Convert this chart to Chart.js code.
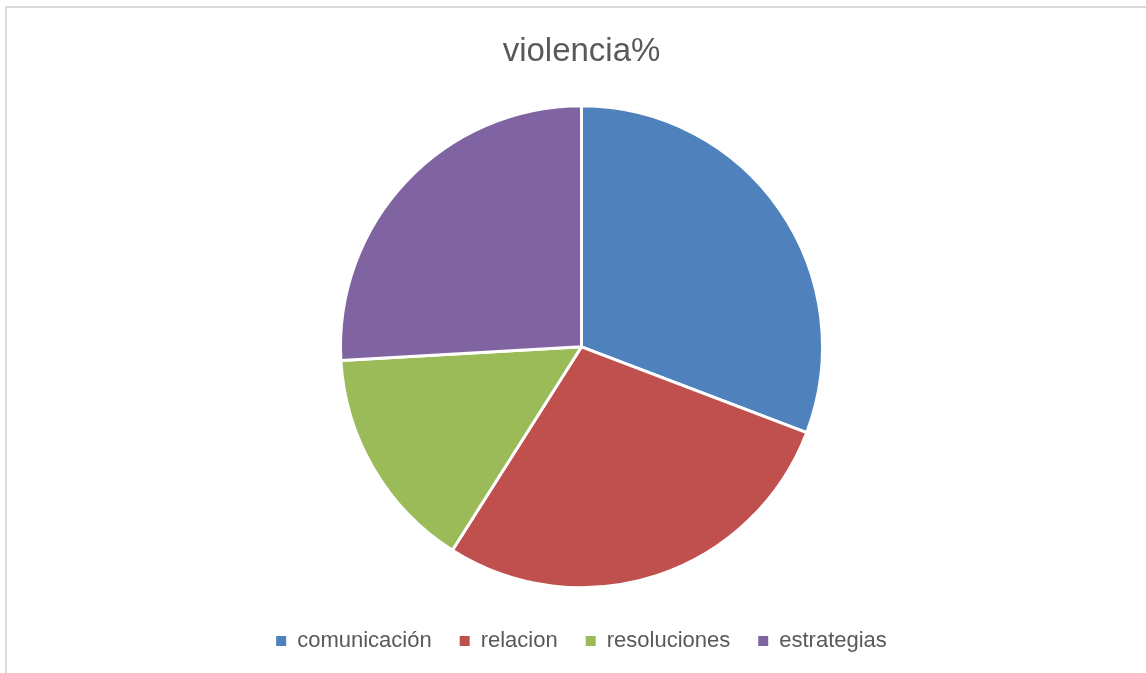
<!DOCTYPE html>
<html>
<head>
<meta charset="utf-8">
<script src="https://cdn.jsdelivr.net/npm/chart.js@4"></script>
<style>
  html, body { margin: 0; padding: 0; background: #fff; }
  #wrap { position: relative; width: 1146px; height: 673px; overflow: hidden; }
  #frame { position: absolute; left: 5px; top: 6px; width: 1200px; height: 800px;
           border-left: 2px solid #d9d9d9; border-top: 2px solid #d9d9d9; box-sizing: border-box; }
  canvas { position: absolute; left: 0; top: 0; }
</style>
</head>
<body>
<div id="wrap">
  <div id="frame"></div>
  <canvas id="c" width="1146" height="673"></canvas>
</div>
<script>
const categories = ["comunicación", "relacion", "resoluciones", "estrategias"];
const values = [30.8, 28.2, 15.1, 25.9];
const colors = ["#4F81BD", "#C0504D", "#9BBB59", "#8064A2"];
const chartTitle = "violencia%";

new Chart(document.getElementById("c"), {
  type: "pie",
  data: {
    labels: categories,
    datasets: [{
      data: values,
      backgroundColor: colors,
      borderColor: "#ffffff",
      borderWidth: 3,
      radius: 241
    }]
  },
  options: {
    responsive: false,
    animation: false,
    devicePixelRatio: 1,
    layout: { padding: { left: 17, right: 0, top: 0, bottom: 11 } },
    plugins: {
      title: {
        display: true,
        text: chartTitle,
        color: "#595959",
        font: { family: "'Liberation Sans', Arial, sans-serif", size: 33, weight: "normal" },
        padding: { top: 32, bottom: 20 }
      },
      legend: {
        display: true,
        position: "bottom",
        labels: {
          color: "#595959",
          boxWidth: 10,
          boxHeight: 10,
          padding: 28,
          font: { family: "'Liberation Sans', Arial, sans-serif", size: 22 },
          generateLabels: (chart) => {
            const items = Chart.controllers.pie.overrides.plugins.legend.labels.generateLabels(chart);
            items.forEach(it => { it.lineWidth = 0; it.strokeStyle = it.fillStyle; });
            return items;
          }
        }
      },
      tooltip: { enabled: false }
    }
  }
});
</script>
</body>
</html>
